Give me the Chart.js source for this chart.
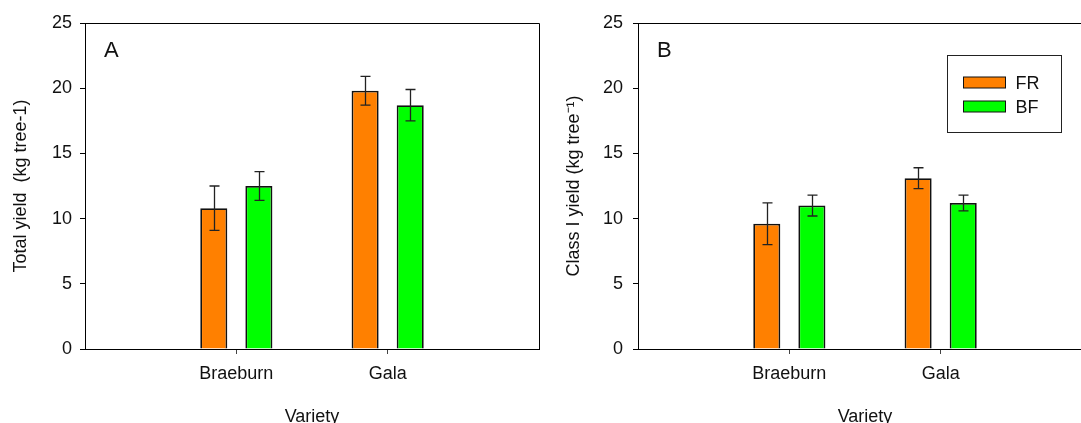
<!DOCTYPE html>
<html>
<head>
<meta charset="utf-8">
<script src="https://cdn.jsdelivr.net/npm/chart.js@4.4.0/dist/chart.umd.min.js"></script>
<style>
  html, body { margin: 0; padding: 0; background: #fff; overflow: hidden; }
  body { width: 1081px; height: 423px; position: relative; }
  .wrap { position: absolute; top: 0; height: 423px; overflow: hidden; }
  #wrapA { left: 0; width: 560px; }
  #wrapB { left: 560px; width: 521px; }
  canvas { position: absolute; top: 0; left: 0; }
</style>
</head>
<body>
<div class="wrap" id="wrapA"><canvas id="panelA" width="560" height="440"></canvas></div>
<div class="wrap" id="wrapB"><canvas id="panelB" width="560" height="440"></canvas></div>
<script>
// --- Data ---
const varieties = ['Braeburn', 'Gala'];
const seriesNames = ['FR', 'BF'];
const seriesColors = ['#ff8000', '#00ff00'];

// Panel A: total yield
const totalFR = [10.8, 19.8];
const totalFRErr = [1.7, 1.1];
const totalBF = [12.5, 18.7];
const totalBFErr = [1.1, 1.2];

// Panel B: class I yield
const classFR = [9.6, 13.1];
const classFRErr = [1.6, 0.8];
const classBF = [11.0, 11.2];
const classBFErr = [0.8, 0.6];

const yMin = 0, yMax = 25, yStep = 5;
const xTitle = 'Variety';

Chart.defaults.font.family = '"Liberation Sans", Arial, sans-serif';
Chart.defaults.font.size = 18;
Chart.defaults.color = '#111';

// empty slots at both ends put the categories at 1/3 and 2/3 of the axis
const labels = ['', ...varieties, ''];
const pad = arr => [null, ...arr, null];

// --- Plugins ---
const errorBars = {
    id: 'errorBars',
    afterDatasetsDraw(chart) {
        const ctx = chart.ctx;
        const yScale = chart.scales.y;
        ctx.save();
        ctx.strokeStyle = '#222';
        ctx.lineWidth = 1.3;
        chart.data.datasets.forEach((ds, i) => {
            const meta = chart.getDatasetMeta(i);
            meta.data.forEach((bar, j) => {
                const v = ds.data[j];
                if (v == null) return;
                const e = ds.errors[j];
                const x = Math.round(bar.x) + 0.5;
                const yt = yScale.getPixelForValue(v + e);
                const yb = yScale.getPixelForValue(v - e);
                ctx.beginPath();
                ctx.moveTo(x, yt); ctx.lineTo(x, yb);
                ctx.moveTo(x - 5, yt); ctx.lineTo(x + 5, yt);
                ctx.moveTo(x - 5, yb); ctx.lineTo(x + 5, yb);
                ctx.stroke();
            });
        });
        ctx.restore();
    }
};

const frameAndLabel = {
    id: 'frameAndLabel',
    afterDraw(chart, args, opts) {
        const { ctx, chartArea: a } = chart;
        ctx.save();
        ctx.strokeStyle = '#000';
        ctx.lineWidth = 1;
        const t = Math.round(a.top) + 0.5, r = Math.round(a.right) + 0.5;
        ctx.beginPath();
        ctx.moveTo(Math.round(a.left), t);
        ctx.lineTo(r, t);
        ctx.lineTo(r, Math.round(a.bottom));
        ctx.stroke();
        ctx.fillStyle = '#111';
        ctx.font = '22px "Liberation Sans", Arial, sans-serif';
        ctx.textBaseline = 'alphabetic';
        ctx.fillText(opts.text, a.left + 19, a.top + 34);
        ctx.restore();
    }
};

const boxLegend = {
    id: 'boxLegend',
    afterDraw(chart, args, opts) {
        if (!opts.show) return;
        const { ctx, chartArea: a } = chart;
        const bx = Math.round(a.left + 309) + 0.5, by = 55.5;
        ctx.save();
        ctx.strokeStyle = '#222';
        ctx.lineWidth = 1;
        ctx.strokeRect(bx, by, 114, 77);
        ctx.font = '18px "Liberation Sans", Arial, sans-serif';
        ctx.textBaseline = 'alphabetic';
        chart.data.datasets.forEach((ds, i) => {
            const sy = 77 + i * 24;
            ctx.fillStyle = ds.backgroundColor;
            ctx.fillRect(bx + 16, sy, 42, 11);
            ctx.strokeStyle = '#111';
            ctx.strokeRect(bx + 16, sy, 42, 11);
            ctx.fillStyle = '#111';
            ctx.fillText(ds.label, bx + 68, sy + 11.5);
        });
        ctx.restore();
    }
};

function makePanel(id, frVals, frErr, bfVals, bfErr, yTitle, letter, axisWidth, tickPad, titlePad, showLegend) {
    const canvas = document.getElementById(id);
    return new Chart(canvas, {
        type: 'bar',
        data: {
            labels: labels,
            datasets: [
                { label: seriesNames[0], data: pad(frVals), errors: pad(frErr),
                  backgroundColor: seriesColors[0], borderColor: '#111', borderWidth: 1.8 },
                { label: seriesNames[1], data: pad(bfVals), errors: pad(bfErr),
                  backgroundColor: seriesColors[1], borderColor: '#111', borderWidth: 1.8 }
            ]
        },
        options: {
            responsive: false,
            animation: false,
            categoryPercentage: 0.596,
            barPercentage: 0.6,
            layout: { padding: { top: 23, right: canvas.width - axisWidth - 454, bottom: 0, left: 0 } },
            plugins: {
                legend: { display: false },
                tooltip: { enabled: false },
                frameAndLabel: { text: letter },
                boxLegend: { show: showLegend }
            },
            scales: {
                x: {
                    offset: false,
                    grid: {
                        offset: false,
                        drawOnChartArea: false,
                        tickLength: 5,
                        tickColor: c => labels[c.index] ? '#444' : 'rgba(0,0,0,0)'
                    },
                    border: { color: '#000', width: 1 },
                    ticks: { padding: 9, maxRotation: 0, autoSkip: false },
                    title: { display: true, text: xTitle, padding: { top: 0, bottom: 12 } },
                    afterFit: s => { s.height = canvas.height - 349; }
                },
                y: {
                    min: yMin,
                    max: yMax,
                    grid: { drawOnChartArea: false, tickLength: 5, tickColor: '#000' },
                    border: { color: '#000', width: 1 },
                    ticks: { stepSize: yStep, padding: tickPad },
                    title: { display: true, text: yTitle, padding: { top: titlePad, bottom: 0 } },
                    afterFit: s => { s.width = axisWidth; }
                }
            }
        },
        plugins: [errorBars, frameAndLabel, boxLegend]
    });
}

makePanel('panelA', totalFR, totalFRErr, totalBF, totalBFErr,
    'Total yield  (kg tree-1)', 'A', 85, 8, 10, false);
makePanel('panelB', classFR, classFRErr, classBF, classBFErr,
    'Class I yield (kg tree\u207B\u00B9)', 'B', 78, 10, 3.5, true);
</script>
</body>
</html>
